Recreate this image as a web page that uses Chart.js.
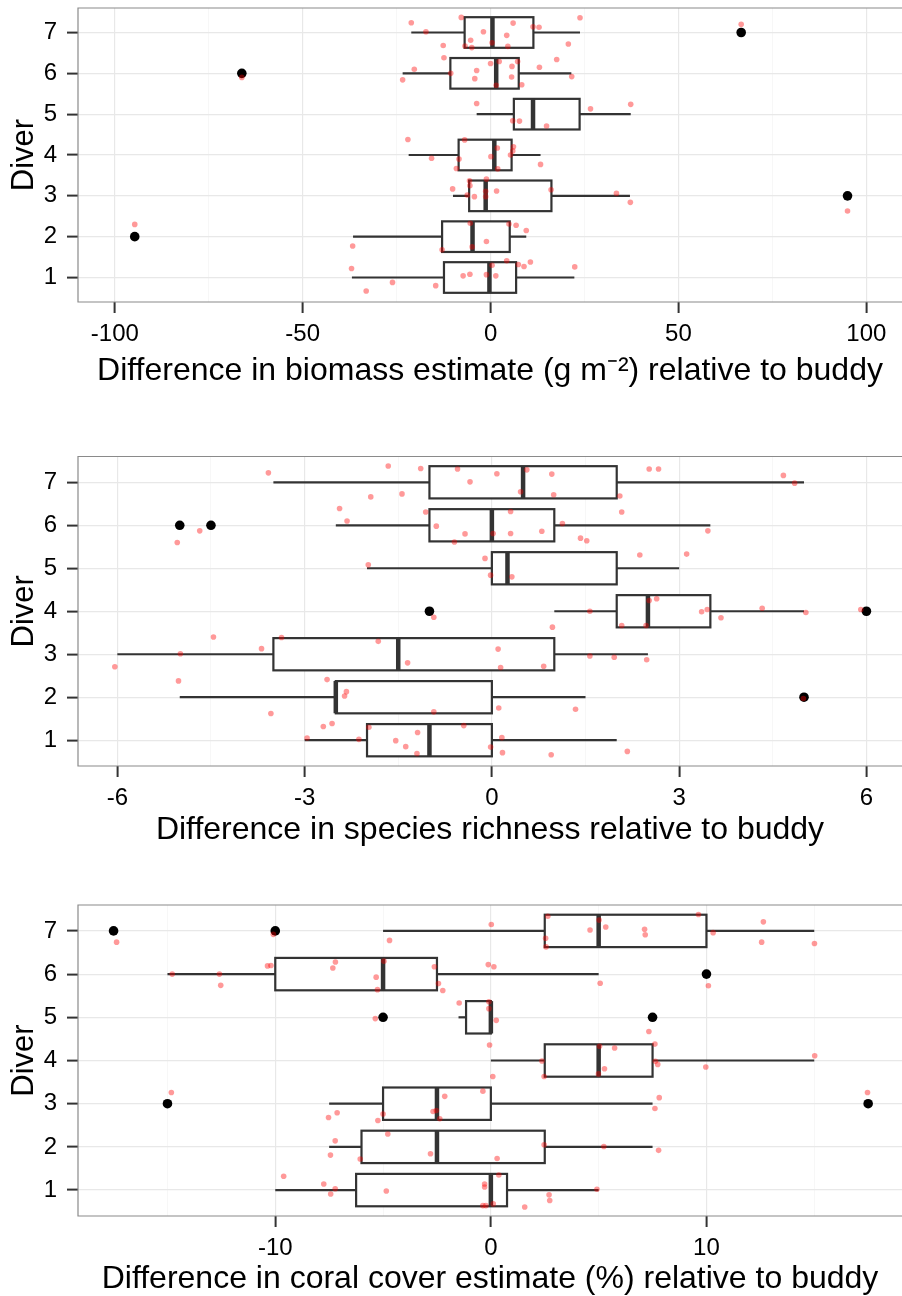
<!DOCTYPE html>
<html>
<head>
<meta charset="utf-8">
<title>Buddy differences by diver</title>
<script src="https://cdn.jsdelivr.net/npm/chart.js@4/dist/chart.umd.min.js"></script>
<style>
  body { margin: 0; background: #fff; width: 902px; height: 1296px; position: relative; overflow: hidden; }
  .panel { position: absolute; left: 0; }
</style>
</head>
<body>
<div class="panel" style="top:0px"><canvas id="biomassChart" width="902" height="400"></canvas></div>
<div class="panel" style="top:430px"><canvas id="richnessChart" width="902" height="420"></canvas></div>
<div class="panel" style="top:880px"><canvas id="coralChart" width="902" height="416"></canvas></div>
<script>
const divers = [1, 2, 3, 4, 5, 6, 7];

// biomass (g m^-2)
const biomassLo = [-36.9, -36.6, -10.0, -21.8, -3.7, -23.4, -21.1];
const biomassQ1 = [-12.4, -12.9, -5.7, -8.5, 6.2, -10.7, -6.9];
const biomassMed = [-0.3, -4.8, -1.3, 1.0, 11.3, 1.5, 0.5];
const biomassQ3 = [6.8, 5.1, 16.2, 5.6, 23.7, 7.5, 11.4];
const biomassHi = [22.3, 9.5, 37.1, 13.3, 37.3, 21.5, 23.8];
const biomassOutliers = [[-94.7, 2], [95.0, 3], [-66.2, 6], [66.7, 7]];
const biomassPoints = [
  [-21.1, 7.24], [-17.2, 7.02], [-12.6, 6.68], [-7.8, 7.37], [-1.9, 7.02], [6.0, 7.23], [4.3, 6.93],
  [-5.3, 6.81], [-6.8, 6.67], [-5.0, 6.63], [0.4, 6.75], [4.6, 6.66], [11.3, 7.14], [12.9, 7.13],
  [20.7, 6.72], [23.8, 7.36], [66.7, 7.2],
  [-12.4, 6.38], [-20.3, 6.10], [-23.4, 5.84], [-66.2, 5.9], [-10.6, 6.0], [-3.7, 6.07], [-4.2, 5.87],
  [0.0, 6.24], [2.3, 6.29], [5.7, 6.17], [5.6, 5.91], [7.2, 6.29], [8.3, 5.72], [13.0, 6.15],
  [17.6, 6.34], [21.6, 5.92], [1.5, 5.71],
  [-3.7, 5.26], [5.9, 4.84], [7.7, 4.83], [14.9, 4.71], [26.6, 5.13], [37.3, 5.24],
  [-22.0, 4.38], [-15.7, 3.92], [-6.9, 4.37], [1.8, 4.17], [6.1, 4.20], [5.9, 4.10], [5.3, 4.0],
  [0.1, 3.96], [-8.4, 3.9], [-9.1, 3.67], [1.9, 3.66], [13.3, 3.77],
  [-10.1, 3.17], [-5.6, 3.37], [-5.5, 3.25], [-6.2, 3.02], [-4.3, 2.98], [-1.1, 3.41], [-1.3, 3.11],
  [-1.3, 2.98], [1.6, 3.12], [16.1, 3.15], [33.5, 3.06], [37.2, 2.84], [95.0, 2.63],
  [-94.7, 2.30], [-36.7, 1.77], [-12.9, 1.68], [-5.4, 2.33], [4.9, 2.31], [6.8, 2.28], [9.5, 2.15],
  [-1.1, 1.88], [-4.9, 1.75],
  [-37.0, 1.22], [-26.1, 0.88], [-33.1, 0.67], [-14.6, 0.80], [4.3, 1.41], [7.4, 1.32], [8.9, 1.27],
  [10.6, 1.38], [22.4, 1.26], [0.4, 1.30], [-7.3, 1.04], [-5.5, 1.08], [-1.1, 1.07], [1.4, 1.04]
];
const biomassMajor = [-100, -50, 0, 50, 100];
const biomassMinor = [-75, -25, 25, 75];

// species richness
const richnessLo = [-3, -5, -6, 1, -2, -2.5, -3.5];
const richnessQ1 = [-2, -2.5, -3.5, 2, 0, -1, -1];
const richnessMed = [-1, -2.5, -1.5, 2.5, 0.25, 0, 0.5];
const richnessQ3 = [0, 0, 1, 3.5, 2, 1, 2];
const richnessHi = [2, 1.5, 2.5, 5, 3, 3.5, 5];
const richnessOutliers = [[5, 2], [-1, 4], [6, 4], [-5, 6], [-4.5, 6]];
const richnessPoints = [
  [-3.58, 7.22], [-1.66, 7.38], [-1.14, 7.32], [-1.94, 6.66], [-1.44, 6.73], [-0.55, 7.31], [0.08, 7.2],
  [0.56, 7.29], [0.96, 7.19], [-0.35, 7.01], [0.46, 6.78], [0.99, 6.71], [2.05, 6.68], [2.52, 7.31],
  [2.67, 7.31], [4.67, 7.16], [4.85, 6.98],
  [-5.04, 5.60], [-4.68, 5.87], [-2.44, 6.39], [-2.32, 6.10], [-1.06, 6.31], [-0.89, 5.98], [0.30, 6.32],
  [2.08, 6.31], [1.13, 6.04], [3.46, 5.87], [-0.43, 5.80], [0.02, 5.81], [0.30, 5.81], [0.80, 5.86],
  [-0.60, 5.61], [1.42, 5.70], [1.52, 5.64],
  [-1.98, 5.08], [-0.11, 5.23], [-0.02, 4.84], [0.32, 4.80], [2.37, 5.31], [3.12, 5.33],
  [-0.93, 3.86], [1.57, 4.0], [2.08, 3.67], [2.47, 3.67], [2.52, 4.25], [2.64, 4.29], [3.36, 3.99],
  [3.45, 4.04], [3.67, 3.85], [4.33, 4.07], [5.03, 3.97], [5.91, 4.04], [0.97, 3.63],
  [-6.04, 2.71], [-4.99, 3.01], [-4.46, 3.40], [-3.69, 3.13], [-3.37, 3.39], [-1.82, 3.30], [-1.35, 2.80],
  [0.10, 3.12], [0.14, 2.69], [0.83, 2.72], [1.57, 2.96], [1.96, 2.93], [2.48, 2.87],
  [-5.02, 2.38], [-3.54, 1.62], [-2.64, 2.41], [-2.33, 2.13], [-2.36, 2.03], [-0.93, 1.66], [0.11, 1.75],
  [1.34, 1.72], [4.99, 1.97],
  [-2.96, 1.05], [-2.70, 1.32], [-2.56, 1.39], [-2.13, 1.02], [-1.97, 1.30], [-1.54, 0.99], [-1.38, 0.85],
  [-1.19, 1.18], [-1.20, 0.69], [-0.45, 1.34], [0.16, 1.06], [-0.02, 0.84], [0.17, 0.71], [0.95, 0.66],
  [2.17, 0.74]
];
const richnessMajor = [-6, -3, 0, 3, 6];
const richnessMinor = [-4.5, -1.5, 1.5, 4.5];

// coral cover (%)
const coralLo = [-10, -7.5, -7.5, 0, -1.5, -15, -5];
const coralQ1 = [-6.25, -6, -5, 2.5, -1.15, -10, 2.5];
const coralMed = [0, -2.5, -2.5, 5, 0, -5, 5];
const coralQ3 = [0.75, 2.5, 0, 7.5, 0, -2.5, 10];
const coralHi = [5, 7.5, 7.5, 15, 0, 5, 15];
const coralOutliers = [[-15, 3], [17.5, 3], [-5, 5], [7.5, 5], [10, 6], [-17.5, 7], [-10, 7]];
const coralPoints = [
  [-17.36, 6.74], [-10.09, 6.92], [-4.70, 6.78], [0.02, 7.15], [2.64, 7.34], [2.54, 6.83], [2.56, 6.63],
  [5.02, 7.25], [4.60, 7.02], [5.33, 7.09], [7.13, 7.04], [7.16, 6.91], [9.63, 7.38], [10.31, 6.96],
  [12.64, 7.21], [12.56, 6.74], [15.01, 6.71],
  [-14.78, 6.0], [-12.59, 6.0], [-12.53, 5.74], [-10.36, 6.19], [-10.20, 6.20], [-7.33, 6.14], [-7.21, 6.28],
  [-5.32, 5.93], [-5.26, 5.64], [-4.96, 6.30], [-2.62, 6.17], [-2.43, 5.78], [-2.23, 5.62], [-0.12, 6.22],
  [0.14, 6.17], [5.07, 5.79], [10.09, 5.73],
  [-5.36, 4.97], [-1.47, 5.33], [-0.09, 5.36], [-0.09, 5.20], [0.25, 4.93], [7.33, 4.67],
  [-0.06, 4.36], [0.09, 3.63], [2.37, 3.99], [2.47, 3.63], [5.04, 4.33], [5.74, 4.29], [5.27, 3.81],
  [4.99, 3.69], [7.61, 4.38], [7.74, 3.91], [7.63, 3.98], [9.97, 3.85], [15.02, 4.11],
  [-14.82, 3.26], [-7.53, 2.68], [-7.13, 2.79], [-5.24, 2.61], [-5.0, 2.76], [-2.68, 2.82], [-2.53, 2.84],
  [-2.37, 2.65], [-2.14, 3.17], [-0.37, 3.29], [7.81, 3.14], [7.61, 2.89], [17.47, 3.26],
  [-7.22, 2.14], [-7.44, 1.81], [-6.06, 1.72], [-4.78, 2.30], [-2.80, 1.84], [2.47, 2.05], [5.24, 2.01],
  [7.78, 1.92],
  [-9.61, 1.32], [-7.75, 1.14], [-7.22, 1.03], [-7.43, 0.91], [-4.85, 0.98], [0.29, 1.73], [0.37, 1.35],
  [-0.29, 1.14], [-0.29, 1.07], [-0.37, 0.64], [-0.23, 0.64], [0.11, 0.68], [1.57, 0.61], [2.70, 0.89],
  [2.73, 0.76], [4.92, 1.02]
];
const coralMajor = [-10, 0, 10];
const coralMinor = [-15, -5, 5, 15];

const FONT = "'Liberation Sans', Arial, Helvetica, sans-serif";
Chart.defaults.font.family = FONT;

// boxes, whiskers and medians, drawn under the points
const boxPlugin = {
  id: "boxes",
  beforeDatasetsDraw(chart, args, opts) {
    const { ctx, chartArea, scales: { x, y } } = chart;
    ctx.save();
    ctx.beginPath();
    ctx.rect(chartArea.left, chartArea.top, chartArea.right - chartArea.left, chartArea.bottom - chartArea.top);
    ctx.clip();
    ctx.strokeStyle = "#333333";
    divers.forEach((d, i) => {
      const yc = y.getPixelForValue(d);
      const yt = y.getPixelForValue(d + 0.375);
      const yb = y.getPixelForValue(d - 0.375);
      const x1 = x.getPixelForValue(opts.q1[i]);
      const x3 = x.getPixelForValue(opts.q3[i]);
      ctx.lineWidth = 2.2;
      ctx.beginPath();
      ctx.moveTo(x.getPixelForValue(opts.lo[i]), yc);
      ctx.lineTo(x1, yc);
      ctx.moveTo(x3, yc);
      ctx.lineTo(x.getPixelForValue(opts.hi[i]), yc);
      ctx.stroke();
      ctx.fillStyle = "#ffffff";
      ctx.fillRect(x1, yt, x3 - x1, yb - yt);
      ctx.strokeRect(x1, yt, x3 - x1, yb - yt);
      const xm = x.getPixelForValue(opts.med[i]);
      ctx.lineWidth = 4.5;
      ctx.beginPath();
      ctx.moveTo(xm, yt);
      ctx.lineTo(xm, yb);
      ctx.stroke();
    });
    ctx.restore();
  },
  // panel frame: the right side runs past the picture edge in the original
  afterDraw(chart) {
    const { ctx, chartArea } = chart;
    ctx.save();
    ctx.strokeStyle = "#8a8a8a";
    ctx.lineWidth = 1.2;
    ctx.beginPath();
    ctx.moveTo(chartArea.right + 2, chartArea.top);
    ctx.lineTo(chartArea.left, chartArea.top);
    ctx.lineTo(chartArea.left, chartArea.bottom);
    ctx.lineTo(chartArea.right + 2, chartArea.bottom);
    ctx.stroke();
    ctx.restore();
  }
};

function makePanel(canvasId, cfg) {
  const allTicks = cfg.major.concat(cfg.minor).sort((a, b) => a - b);
  const isMajor = (v) => cfg.major.includes(v);

  const data = {
    datasets: [
      {
        label: "points",
        data: cfg.points.map((p) => ({ x: p[0], y: p[1] })),
        backgroundColor: "rgba(255, 0, 0, 0.4)",
        borderWidth: 0,
        pointRadius: 2.8,
      },
      {
        label: "outliers",
        data: cfg.outliers.map((p) => ({ x: p[0], y: p[1] })),
        backgroundColor: "#000000",
        borderWidth: 0,
        pointRadius: 4.8,
      },
    ],
  };

  const config = {
    type: "scatter",
    data: data,
    plugins: [boxPlugin],
    options: {
      responsive: false,
      animation: false,
      events: [],
      layout: { autoPadding: false, padding: { top: cfg.padTop, left: 0, right: 0, bottom: 0 } },
      plugins: {
        legend: { display: false },
        tooltip: { enabled: false },
        boxes: { lo: cfg.lo, q1: cfg.q1, med: cfg.med, q3: cfg.q3, hi: cfg.hi },
      },
      scales: {
        x: {
          type: "linear",
          min: cfg.min,
          max: cfg.max,
          afterBuildTicks: (s) => { s.ticks = allTicks.map((v) => ({ value: v })); },
          afterFit: (s) => {
            s.height = cfg.axisHeight;
            s.paddingLeft = 0;
            s.paddingRight = 0;
          },
          ticks: {
            autoSkip: false,
            maxRotation: 0,
            padding: 6.5,
            color: "#000000",
            font: { size: 24 },
            callback: (v) => (isMajor(v) ? String(v) : ""),
          },
          grid: {
            color: (c) => (isMajor(c.tick.value) ? "#e8e8e8" : "#f3f3f3"),
            lineWidth: (c) => (isMajor(c.tick.value) ? 1.2 : 0.7),
            tickColor: (c) => (isMajor(c.tick.value) ? "#333333" : "rgba(0,0,0,0)"),
            tickLength: 11,
            tickWidth: 2,
          },
          border: { display: false },
          title: {
            display: true,
            text: cfg.title,
            color: "#000000",
            font: { size: 32, lineHeight: 1.2 },
            padding: { top: 0, bottom: cfg.titlePad },
          },
        },
        y: {
          type: "linear",
          min: 0.4,
          max: 7.6,
          afterBuildTicks: (s) => { s.ticks = divers.map((v) => ({ value: v })); },
          afterFit: (s) => {
            s.width = 78;
            s.paddingTop = 0;
            s.paddingBottom = 0;
          },
          ticks: { padding: 10, color: "#000000", font: { size: 24 } },
          grid: { color: "#e8e8e8", lineWidth: 1.2, tickColor: "#333333", tickLength: 11, tickWidth: 2 },
          border: { display: false },
          title: {
            display: true,
            text: "Diver",
            color: "#000000",
            font: { size: 31, lineHeight: 1.2 },
            padding: { top: 6, bottom: 0 },
          },
        },
      },
    },
  };

  const ctx = document.getElementById(canvasId).getContext("2d");
  return new Chart(ctx, config);
}

makePanel("biomassChart", {
  lo: biomassLo, q1: biomassQ1, med: biomassMed, q3: biomassQ3, hi: biomassHi,
  outliers: biomassOutliers, points: biomassPoints,
  major: biomassMajor, minor: biomassMinor, min: -109.8, max: 109.5,
  title: "Difference in biomass estimate (g m\u207B\u00B2) relative to buddy",
  padTop: 8, axisHeight: 98, titlePad: 10,
});

makePanel("richnessChart", {
  lo: richnessLo, q1: richnessQ1, med: richnessMed, q3: richnessQ3, hi: richnessHi,
  outliers: richnessOutliers, points: richnessPoints,
  major: richnessMajor, minor: richnessMinor, min: -6.63, max: 6.57,
  title: "Difference in species richness relative to buddy",
  padTop: 26.5, axisHeight: 84, titlePad: 1,
});

makePanel("coralChart", {
  lo: coralLo, q1: coralQ1, med: coralMed, q3: coralQ3, hi: coralHi,
  outliers: coralOutliers, points: coralPoints,
  major: coralMajor, minor: coralMinor, min: -19.15, max: 19.07,
  title: "Difference in coral cover estimate (%) relative to buddy",
  padTop: 25, axisHeight: 80, titlePad: -2,
});
</script>
</body>
</html>
